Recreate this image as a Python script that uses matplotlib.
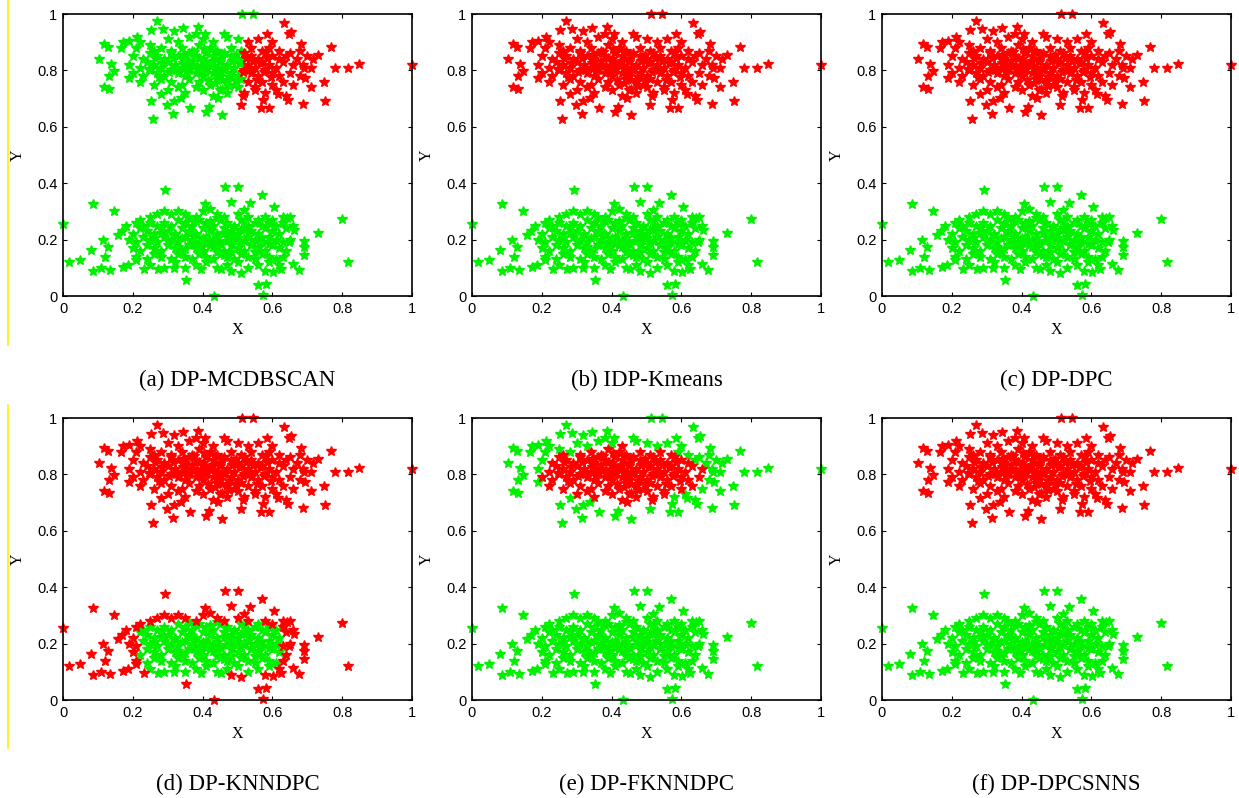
import numpy as np
import matplotlib
matplotlib.use("Agg")
import matplotlib.pyplot as plt
from matplotlib.lines import Line2D

# upper cluster (same points in every panel)
upper_x = [0.512, 0.544, 0.268, 0.633, 0.386, 0.287, 0.343, 0.252, 0.319, 0.406, 0.654, 0.647, 0.584,
           0.211, 0.190, 0.171, 0.117, 0.128, 0.683, 0.767, 0.166, 0.102, 0.730, 0.716, 0.847, 0.816,
           0.780, 1.000, 0.138, 0.147, 0.132, 0.117, 0.131, 0.190, 0.748, 0.711, 0.751, 0.687, 0.646,
           0.568, 0.591, 0.572, 0.252, 0.257, 0.297, 0.319, 0.315, 0.365, 0.410, 0.456, 0.419, 0.511,
           0.444, 0.281, 0.338, 0.517, 0.616, 0.711, 0.687, 0.694,
           0.30, 0.33, 0.36, 0.40, 0.43, 0.47, 0.50, 0.53, 0.56, 0.22, 0.25, 0.60, 0.46, 0.38,
           0.21, 0.26, 0.28, 0.31, 0.34, 0.37, 0.39, 0.42, 0.44, 0.48, 0.51, 0.54, 0.57, 0.59, 0.62, 0.65, 0.68,
           0.20, 0.23, 0.25, 0.27, 0.29, 0.31, 0.33, 0.35, 0.36, 0.38, 0.40, 0.41, 0.43, 0.45, 0.46, 0.48,
           0.50, 0.52, 0.54, 0.56, 0.58, 0.60, 0.62, 0.64, 0.67, 0.70,
           0.19, 0.22, 0.24, 0.26, 0.28, 0.30, 0.32, 0.34, 0.35, 0.37, 0.39, 0.40, 0.42, 0.44, 0.45, 0.47,
           0.49, 0.51, 0.53, 0.55, 0.57, 0.59, 0.61, 0.63, 0.66, 0.69,
           0.20, 0.23, 0.25, 0.27, 0.29, 0.31, 0.33, 0.35, 0.36, 0.38, 0.40, 0.41, 0.43, 0.45, 0.46, 0.48,
           0.50, 0.52, 0.54, 0.56, 0.58, 0.60, 0.62, 0.65, 0.68,
           0.22, 0.26, 0.28, 0.31, 0.34, 0.36, 0.39, 0.42, 0.44, 0.47, 0.49, 0.51, 0.53, 0.55, 0.57, 0.60, 0.63, 0.66,
           0.30, 0.35, 0.40, 0.43, 0.45, 0.47, 0.50, 0.52, 0.55, 0.58, 0.61, 0.64, 0.38, 0.33,
           0.370, 0.390, 0.410, 0.430, 0.385, 0.405, 0.425, 0.445, 0.465, 0.475, 0.455, 0.435, 0.415,
           0.395, 0.355, 0.345, 0.325, 0.315, 0.345, 0.375, 0.405, 0.435, 0.455, 0.485, 0.505, 0.525,
           0.535, 0.515, 0.495, 0.475, 0.455, 0.495, 0.565, 0.545, 0.585, 0.575, 0.555, 0.595, 0.285,
           0.265, 0.245, 0.305, 0.275]
upper_y = [1.000, 1.000, 0.974, 0.969, 0.955, 0.948, 0.952, 0.944, 0.941, 0.929, 0.935, 0.929, 0.929,
           0.917, 0.905, 0.899, 0.895, 0.884, 0.895, 0.884, 0.880, 0.840, 0.854, 0.840, 0.824, 0.810,
           0.810, 0.818, 0.822, 0.798, 0.780, 0.741, 0.733, 0.772, 0.760, 0.741, 0.691, 0.682, 0.694,
           0.665, 0.665, 0.694, 0.691, 0.626, 0.677, 0.691, 0.646, 0.665, 0.652, 0.641, 0.670, 0.679,
           0.703, 0.715, 0.703, 0.709, 0.715, 0.810, 0.818, 0.772,
           0.91, 0.90, 0.92, 0.91, 0.90, 0.92, 0.91, 0.90, 0.91, 0.90, 0.89, 0.90, 0.93, 0.93,
           0.88, 0.87, 0.88, 0.87, 0.88, 0.87, 0.89, 0.88, 0.87, 0.88, 0.87, 0.88, 0.87, 0.88, 0.87, 0.86, 0.87,
           0.85, 0.84, 0.86, 0.85, 0.84, 0.86, 0.85, 0.84, 0.86, 0.85, 0.84, 0.86, 0.85, 0.84, 0.86, 0.85,
           0.84, 0.86, 0.85, 0.84, 0.86, 0.85, 0.84, 0.85, 0.84, 0.85,
           0.82, 0.81, 0.83, 0.82, 0.81, 0.83, 0.82, 0.81, 0.83, 0.82, 0.81, 0.83, 0.82, 0.81, 0.83, 0.82,
           0.81, 0.83, 0.82, 0.81, 0.83, 0.82, 0.81, 0.83, 0.82, 0.81,
           0.79, 0.78, 0.80, 0.79, 0.78, 0.80, 0.79, 0.78, 0.80, 0.79, 0.78, 0.80, 0.79, 0.78, 0.80, 0.79,
           0.78, 0.80, 0.79, 0.78, 0.80, 0.79, 0.78, 0.79, 0.78,
           0.76, 0.75, 0.77, 0.76, 0.75, 0.77, 0.76, 0.75, 0.77, 0.76, 0.75, 0.77, 0.76, 0.74, 0.76, 0.75, 0.76, 0.75,
           0.73, 0.72, 0.73, 0.71, 0.73, 0.72, 0.74, 0.72, 0.73, 0.72, 0.73, 0.71, 0.74, 0.74,
           0.835, 0.845, 0.825, 0.835, 0.815, 0.805, 0.815, 0.795, 0.805, 0.775, 0.765, 0.755, 0.765,
           0.795, 0.805, 0.825, 0.805, 0.845, 0.855, 0.865, 0.875, 0.865, 0.855, 0.835, 0.825, 0.845,
           0.805, 0.795, 0.765, 0.745, 0.735, 0.855, 0.825, 0.835, 0.845, 0.795, 0.765, 0.775, 0.825,
           0.845, 0.805, 0.795, 0.775]

# lower cluster
lower_x = [0.000, 0.018, 0.049, 0.085, 0.080, 0.085, 0.109, 0.136, 0.114, 0.147, 0.119, 0.130, 0.157,
           0.171, 0.185, 0.210, 0.233, 0.271, 0.292, 0.353, 0.434, 0.465, 0.501, 0.570, 0.480, 0.407,
           0.604, 0.558, 0.582, 0.572, 0.799, 0.732, 0.818, 0.690, 0.690, 0.690, 0.663, 0.675, 0.660,
           0.642, 0.648, 0.625, 0.602, 0.510, 0.453, 0.396, 0.319, 0.520, 0.537,
           0.27, 0.29, 0.31, 0.33, 0.35, 0.38, 0.40, 0.42, 0.44, 0.46, 0.50, 0.53, 0.56, 0.58, 0.60, 0.63, 0.65, 0.25, 0.22,
           0.18, 0.21, 0.23, 0.25, 0.27, 0.29, 0.31, 0.33, 0.35, 0.37, 0.39, 0.41, 0.43, 0.45, 0.47, 0.49,
           0.51, 0.53, 0.55, 0.57, 0.59, 0.61, 0.63, 0.66,
           0.17, 0.20, 0.22, 0.24, 0.26, 0.28, 0.30, 0.32, 0.34, 0.36, 0.38, 0.40, 0.42, 0.44, 0.46, 0.48,
           0.50, 0.52, 0.54, 0.56, 0.58, 0.60, 0.62, 0.64,
           0.19, 0.21, 0.23, 0.25, 0.27, 0.29, 0.31, 0.33, 0.35, 0.37, 0.39, 0.41, 0.43, 0.45, 0.47, 0.49,
           0.51, 0.53, 0.55, 0.57, 0.59, 0.61, 0.63, 0.65,
           0.20, 0.22, 0.24, 0.26, 0.28, 0.30, 0.32, 0.34, 0.36, 0.38, 0.40, 0.42, 0.44, 0.46, 0.48, 0.50,
           0.52, 0.54, 0.56, 0.58, 0.60, 0.62, 0.64,
           0.21, 0.24, 0.26, 0.28, 0.31, 0.33, 0.35, 0.37, 0.39, 0.41, 0.43, 0.45, 0.47, 0.49, 0.51, 0.53,
           0.55, 0.57, 0.59, 0.61, 0.63,
           0.25, 0.29, 0.32, 0.35, 0.38, 0.41, 0.44, 0.47, 0.50, 0.53, 0.56, 0.59, 0.62, 0.58, 0.48,
           0.40, 0.42, 0.44, 0.41, 0.43, 0.39, 0.37, 0.45, 0.47, 0.38, 0.36, 0.34, 0.32, 0.46, 0.48,
           0.50, 0.52, 0.54, 0.56, 0.53, 0.51, 0.49, 0.42, 0.40, 0.44, 0.46, 0.48, 0.35, 0.33, 0.55,
           0.57, 0.59, 0.30, 0.28, 0.26, 0.42, 0.38, 0.44, 0.36, 0.52]
lower_y = [0.255, 0.121, 0.127, 0.088, 0.163, 0.325, 0.100, 0.091, 0.198, 0.302, 0.139, 0.175, 0.216,
           0.103, 0.109, 0.127, 0.097, 0.097, 0.376, 0.056, 0.000, 0.388, 0.385, 0.359, 0.335, 0.325,
           0.317, 0.038, 0.044, 0.005, 0.273, 0.222, 0.119, 0.195, 0.175, 0.147, 0.234, 0.091, 0.112,
           0.278, 0.192, 0.097, 0.086, 0.080, 0.097, 0.094, 0.100, 0.305, 0.329,
           0.29, 0.30, 0.29, 0.30, 0.29, 0.28, 0.30, 0.31, 0.29, 0.28, 0.29, 0.28, 0.27, 0.28, 0.27, 0.28, 0.28, 0.28, 0.27,
           0.25, 0.26, 0.25, 0.26, 0.25, 0.26, 0.25, 0.27, 0.26, 0.25, 0.27, 0.26, 0.25, 0.27, 0.26, 0.25,
           0.27, 0.25, 0.26, 0.25, 0.26, 0.25, 0.26, 0.25,
           0.23, 0.22, 0.24, 0.23, 0.22, 0.24, 0.23, 0.22, 0.24, 0.23, 0.22, 0.24, 0.23, 0.22, 0.24, 0.23,
           0.22, 0.24, 0.23, 0.22, 0.24, 0.23, 0.22, 0.24,
           0.20, 0.19, 0.21, 0.20, 0.19, 0.21, 0.20, 0.19, 0.21, 0.20, 0.19, 0.21, 0.20, 0.19, 0.21, 0.20,
           0.19, 0.21, 0.20, 0.19, 0.21, 0.20, 0.19, 0.20,
           0.17, 0.16, 0.18, 0.17, 0.16, 0.18, 0.17, 0.16, 0.18, 0.17, 0.16, 0.18, 0.17, 0.16, 0.18, 0.17,
           0.16, 0.18, 0.17, 0.16, 0.18, 0.17, 0.16,
           0.14, 0.13, 0.15, 0.14, 0.13, 0.15, 0.14, 0.13, 0.15, 0.14, 0.13, 0.15, 0.14, 0.13, 0.15, 0.14,
           0.13, 0.15, 0.14, 0.13, 0.14,
           0.11, 0.10, 0.12, 0.10, 0.11, 0.12, 0.10, 0.11, 0.12, 0.10, 0.11, 0.12, 0.11, 0.09, 0.09,
           0.205, 0.195, 0.205, 0.185, 0.175, 0.175, 0.185, 0.185, 0.195, 0.215, 0.225, 0.205, 0.215, 0.225, 0.215,
           0.205, 0.195, 0.185, 0.175, 0.225, 0.235, 0.245, 0.245, 0.155, 0.155, 0.145, 0.155, 0.165, 0.175, 0.155,
           0.205, 0.185, 0.195, 0.225, 0.205, 0.265, 0.265, 0.275, 0.275, 0.265]

titles = ["(a) DP-MCDBSCAN", "(b) IDP-Kmeans", "(c) DP-DPC",
          "(d) DP-KNNDPC", "(e) DP-FKNNDPC", "(f) DP-DPCSNNS"]
ticks = [0, 0.2, 0.4, 0.6, 0.8, 1]
tick_labels = ["0", "0.2", "0.4", "0.6", "0.8", "1"]

RED = "#ff0000"
GREEN = "#00f000"

ux, uy = np.array(upper_x), np.array(upper_y)
lx, ly = np.array(lower_x), np.array(lower_y)


def labels(panel):
    # cluster assignment of each algorithm: True = red
    if panel == 0:
        up = (ux > 0.51) & (uy < 0.99)
        lo = np.zeros(len(lx), bool)
    elif panel == 3:
        up = np.ones(len(ux), bool)
        lo = ((lx - 0.42) / 0.21) ** 4 + ((ly - 0.185) / 0.095) ** 4 > 1
    elif panel == 4:
        up = ((ux - 0.43) / 0.24) ** 2 + ((uy - 0.80) / 0.10) ** 2 < 1
        lo = np.zeros(len(lx), bool)
    else:
        up = np.ones(len(ux), bool)
        lo = np.zeros(len(lx), bool)
    return up, lo


fig = plt.figure(figsize=(12.39, 7.98), dpi=100)
lefts = [63, 472, 882]
tops = [14, 418]
W, H = 349, 282

for i in range(6):
    r, c = divmod(i, 3)
    ax = fig.add_axes([lefts[c] / 1239, 1 - (tops[r] + H) / 798, W / 1239, H / 798])
    up, lo = labels(i)
    xs = np.concatenate([ux, lx])
    ys = np.concatenate([uy, ly])
    red = np.concatenate([up, lo])
    ax.plot(xs[~red], ys[~red], "*", color=GREEN, ms=7.5, mew=1.0, ls="none", clip_on=False)
    ax.plot(xs[red], ys[red], "*", color=RED, ms=7.5, mew=1.0, ls="none", clip_on=False)
    ax.set_xlim(0, 1)
    ax.set_ylim(0, 1)
    ax.set_xticks(ticks)
    ax.set_yticks(ticks)
    ax.set_xticklabels(tick_labels, fontsize=10.5, family="Liberation Sans")
    ax.set_yticklabels(tick_labels, fontsize=10.5, family="Liberation Sans")
    ax.tick_params(direction="in", top=True, right=True, length=3, pad=4)
    for s in ax.spines.values():
        s.set_linewidth(1.2)
    ax.set_xlabel("X", fontsize=11.5, family="Liberation Serif", labelpad=5)
    ax.set_ylabel("Y", fontsize=11.5, family="Liberation Serif", labelpad=8)
    fig.text((lefts[c] + W / 2) / 1239, 1 - (tops[r] + 366) / 798, titles[i],
             ha="center", va="center", fontsize=16.5, family="Liberation Serif")

# yellow margin marks on the left
fig.add_artist(Line2D([8 / 1239, 8 / 1239], [1, 1 - 345 / 798], color="#ffee00", lw=1.2))
fig.add_artist(Line2D([8 / 1239, 8 / 1239], [1 - 405 / 798, 1 - 748 / 798], color="#ffee00", lw=1.2))

fig.savefig("out.png", dpi=100, facecolor="white")
